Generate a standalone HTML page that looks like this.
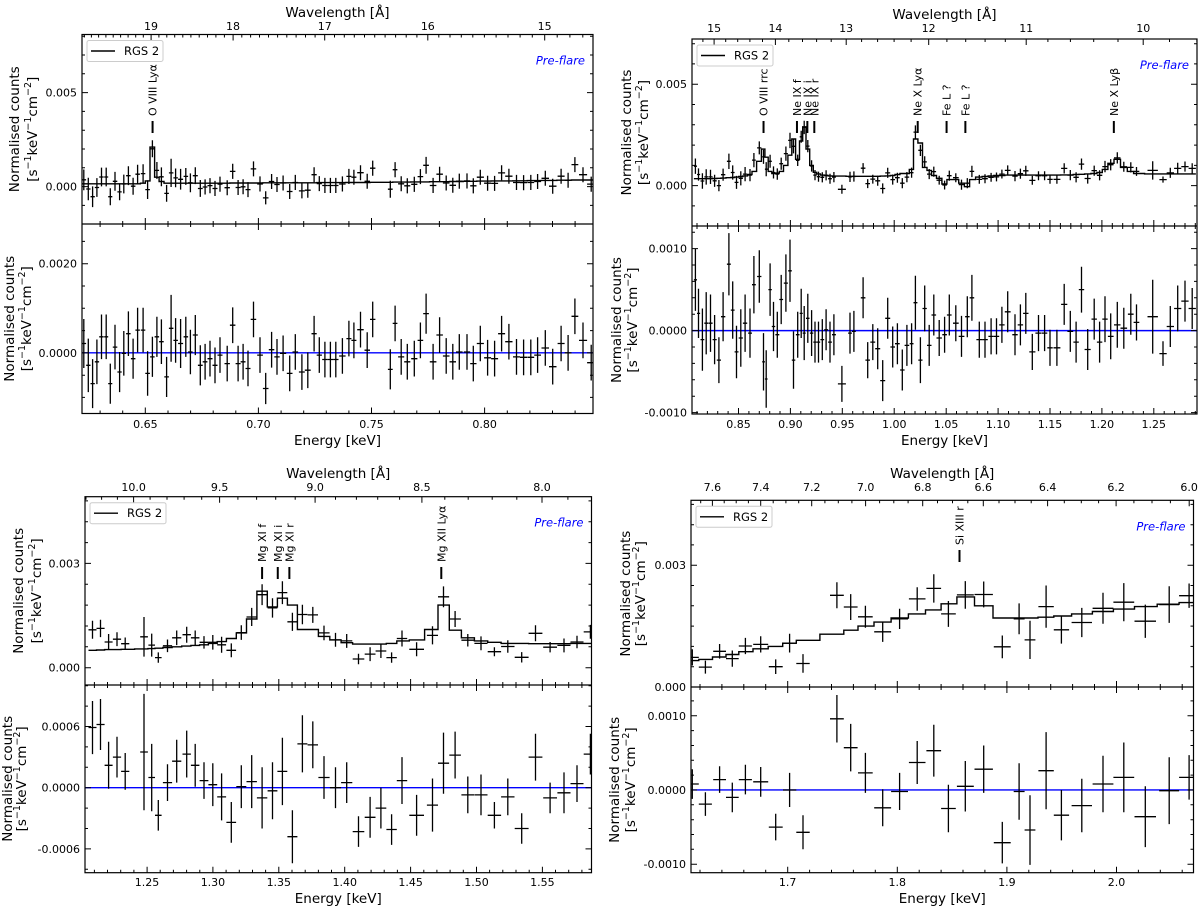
<!DOCTYPE html>
<html><head><meta charset="utf-8"><title>RGS 2 pre-flare spectra</title>
<style>
html,body{margin:0;padding:0;background:#fff;}
svg{display:block;font-family:"DejaVu Sans","Liberation Sans",sans-serif;}
</style></head>
<body>
<svg id="fig" xmlns="http://www.w3.org/2000/svg" width="1200" height="911" viewBox="0 0 1200 911"></svg>
<script>
// ---------- Panel 1 (O VIII region) ----------
const p1Energy=[0.6228,0.6248,0.6267,0.6286,0.6306,0.6327,0.6345,0.6366,0.6386,0.6405,0.6425,0.6446,0.6466,0.6490,0.6510,0.6531,0.6551,0.6571,0.6594,0.6614,0.6634,0.6656,0.6679,0.6699,0.6721,0.6743,0.6764,0.6786,0.6808,0.6830,0.6862,0.6886,0.6910,0.6932,0.6954,0.6978,0.7007,0.7032,0.7058,0.7082,0.7109,0.7138,0.7163,0.7192,0.7218,0.7246,0.7269,0.7294,0.7318,0.7342,0.7371,0.7400,0.7422,0.7451,0.7481,0.7505,0.7583,0.7604,0.7631,0.7658,0.7689,0.7716,0.7741,0.7772,0.7801,0.7830,0.7859,0.7888,0.7922,0.7950,0.7981,0.8013,0.8044,0.8075,0.8107,0.8141,0.8172,0.8204,0.8234,0.8268,0.8301,0.8338,0.8369,0.8399,0.8435,0.8471];
const p1Resid=[0.00021,-0.00028,-0.00069,-0.0002,0.00036,0.00036,-0.00069,0.00013,-0.00043,-0.00001,0.00043,-0.00013,0.00051,0.00051,-0.00046,-0.00009,0.00036,0.00025,-0.00054,0.00055,0.00028,0.00021,0.00036,0.00002,0.0004,-0.00028,-0.0002,-0.00013,-0.00028,-0.00005,-0.00024,0.00062,-0.00024,-0.0002,-0.00035,0.00075,-0.00005,-0.0008,0.00007,-0.00009,-0.00001,-0.00046,0.00002,-0.00043,-0.00039,0.00043,-0.00005,-0.00015,-0.00015,-0.00015,-0.00007,0.00032,0.00028,0.00052,0.00006,0.00075,-0.00037,0.00066,-0.00009,-0.0002,-0.00013,0.00028,0.00088,-0.0002,0.0004,-0.00007,-0.0002,0.00002,0.00002,-0.00024,0.00021,-0.00011,-0.00013,0.00043,0.00025,-0.00009,-0.0001,-0.0001,-0.00005,0.00011,-0.00031,0.00021,0,0.00082,0.00028,-0.00022];
const p1Err=[0.00055,0.0006,0.00055,0.0005,0.0005,0.0005,0.00045,0.0005,0.00045,0.0005,0.0005,0.00045,0.0005,0.0005,0.0005,0.00045,0.00045,0.0005,0.00045,0.00075,0.0005,0.00055,0.00045,0.0005,0.00045,0.00045,0.0004,0.0004,0.0004,0.0004,0.0004,0.0004,0.0004,0.0004,0.0004,0.0004,0.0004,0.00035,0.0004,0.0004,0.0004,0.0004,0.0004,0.0004,0.0004,0.0004,0.0004,0.0004,0.0004,0.0004,0.0004,0.0004,0.0004,0.0004,0.0004,0.0004,0.00045,0.0004,0.0004,0.0004,0.0004,0.0004,0.00045,0.0004,0.0004,0.0004,0.0004,0.0004,0.0004,0.0004,0.0004,0.0004,0.0004,0.0004,0.0004,0.0004,0.0004,0.0004,0.0004,0.0004,0.0004,0.0004,0.0004,0.0004,0.0004,0.0004];
const p1Model=[0.00015,0.00015,0.00015,0.00015,0.00015,0.00015,0.00015,0.00015,0.00015,0.00015,0.00015,0.00015,0.00015,0.00018,0.0003,0.0021,0.0005,0.00027,0.00018,0.00018,0.00018,0.00018,0.00018,0.00018,0.00018,0.00018,0.00018,0.00018,0.00018,0.00018,0.00018,0.00019,0.00019,0.00019,0.00019,0.00019,0.00019,0.0002,0.0002,0.0002,0.0002,0.0002,0.0002,0.0002,0.0002,0.0002,0.00021,0.00021,0.00021,0.00021,0.00021,0.00022,0.00022,0.00022,0.00022,0.00023,0.00023,0.00024,0.00024,0.00024,0.00025,0.00025,0.00025,0.00026,0.00026,0.00026,0.00027,0.00027,0.00028,0.00028,0.00029,0.00029,0.0003,0.0003,0.0003,0.00031,0.00031,0.00032,0.00032,0.00033,0.00033,0.00034,0.00034,0.00035,0.00035,0.00035];
const p1TopTicks=[0.000,0.005], p1TopTickLabels=["0.000","0.005"];
const p1BotTicks=[0.0000,0.0020], p1BotTickLabels=["0.0000","0.0020"];
const p1ETicks=[0.65,0.70,0.75,0.80], p1ETickLabels=["0.65","0.70","0.75","0.80"];
const p1WTicks=[19,18,17,16,15], p1WTickLabels=["19","18","17","16","15"];
const p1Lines=["O VIII Lyα"], p1LineE=[0.6532];

// ---------- Panel 2 (Ne region) ----------
const p2Energy=[0.8085,0.8115,0.8152,0.8189,0.8230,0.8270,0.8311,0.8352,0.8407,0.8444,0.8481,0.8522,0.8563,0.8611,0.8648,0.8700,0.8741,0.8767,0.8804,0.8837,0.8874,0.8911,0.8956,0.8996,0.9030,0.9070,0.9104,0.9133,0.9167,0.9204,0.9237,0.9270,0.9307,0.9344,0.9381,0.9419,0.9496,0.9574,0.9611,0.9700,0.9744,0.9793,0.9841,0.9889,0.9937,0.9985,1.0030,1.0078,1.0122,1.0167,1.0204,1.0252,1.0293,1.0337,1.0381,1.0433,1.0485,1.0530,1.0593,1.0648,1.0704,1.0748,1.0819,1.0874,1.0933,1.0985,1.1037,1.1093,1.1163,1.1215,1.1267,1.1330,1.1389,1.1448,1.1500,1.1567,1.1637,1.1696,1.1752,1.1804,1.1863,1.1926,1.1978,1.2030,1.2085,1.2148,1.2211,1.2278,1.2333,1.2489,1.2589,1.2659,1.2730,1.2800,1.2870];
const p2Resid=[0.00062,0.00021,-0.00011,0.00009,0.00009,-0.00011,-0.00036,0.00017,0.00081,0.00025,-0.00026,-0.00009,0.00009,-0.00003,0.00056,0.00066,-0.00038,-0.00059,0.0005,0.00005,-0.00005,0.00038,0.00058,0.00073,-0.00036,-0.00005,0.00021,-0.00003,0.00015,-0.00003,-0.00014,-0.00014,-0.00011,0.00001,-0.00014,-0.00005,-0.00065,-0.00003,-0.00001,0.0004,-0.00036,-0.00014,-0.00022,-0.00061,0.00015,-0.0002,-0.00016,-0.00048,-0.00018,-0.00016,0.00034,-0.00036,0.00027,-0.00018,0.00019,-0.00009,-0.00005,0.00019,0.00009,-0.00007,0.00017,0.0004,-0.00011,-0.00011,-0.00007,-0.00007,0.00007,0.00023,-0.00005,0.00007,0.00021,-0.00026,-0.00003,-0.00003,-0.00021,-0.00021,0.00032,-0.00001,-0.00014,0.0005,-0.00023,0.00014,-0.00014,0.00014,-0.00007,0.00007,0.00003,0.0002,0.0001,0.00017,-0.00028,0.00005,0.00027,0.00036,0.00027];
const p2Err=[0.00038,0.0003,0.00038,0.00038,0.00035,0.0003,0.00028,0.0003,0.00038,0.00035,0.00032,0.00035,0.00035,0.0003,0.00035,0.00032,0.00035,0.00035,0.00032,0.0003,0.00028,0.0003,0.00035,0.00038,0.00035,0.00028,0.0003,0.00033,0.0003,0.00028,0.00025,0.00025,0.00025,0.00025,0.00025,0.00025,0.00022,0.00025,0.00025,0.00025,0.00022,0.00022,0.00025,0.00025,0.00025,0.00025,0.00025,0.00025,0.00025,0.00025,0.00033,0.00028,0.00028,0.00025,0.00025,0.00022,0.00022,0.00025,0.00022,0.00025,0.00025,0.00028,0.00022,0.00022,0.00022,0.00022,0.00022,0.00025,0.00025,0.00025,0.00025,0.00022,0.00022,0.00022,0.00022,0.00022,0.00025,0.00025,0.00025,0.00028,0.00025,0.00025,0.00025,0.00028,0.00028,0.00028,0.00025,0.00025,0.00022,0.00045,0.00015,0.00025,0.00028,0.00025,0.00025];
const p2Model=[0.00034,0.00034,0.00034,0.00034,0.00034,0.00035,0.00036,0.00037,0.00039,0.0004,0.00042,0.00045,0.00048,0.00055,0.0007,0.0012,0.0018,0.0014,0.0007,0.0006,0.00062,0.0007,0.001,0.0015,0.0023,0.0013,0.0022,0.0029,0.0018,0.001,0.00066,0.00058,0.00052,0.0005,0.00048,0.00047,0.00047,0.00046,0.00046,0.00046,0.00046,0.00046,0.00046,0.00047,0.00048,0.0005,0.00055,0.0006,0.0006,0.0008,0.0023,0.0021,0.0009,0.00075,0.0005,0.00036,0.00008,0.0003,0.0003,0.00012,-0.00005,0.0003,0.00042,0.00045,0.00048,0.0005,0.0005,0.00052,0.00052,0.00052,0.00052,0.00052,0.00052,0.00052,0.00052,0.00052,0.00053,0.00053,0.00055,0.00056,0.00058,0.0006,0.00065,0.0008,0.0011,0.0013,0.0009,0.0007,0.0006,0.00058,0.00058,0.00058,0.00058,0.00058,0.00058];
const p2TopTicks=[0.000,0.005], p2TopTickLabels=["0.000","0.005"];
const p2BotTicks=[-0.0010,0.0000,0.0010], p2BotTickLabels=["-0.0010","0.0000","0.0010"];
const p2ETicks=[0.85,0.90,0.95,1.00,1.05,1.10,1.15,1.20,1.25], p2ETickLabels=["0.85","0.90","0.95","1.00","1.05","1.10","1.15","1.20","1.25"];
const p2WTicks=[15,14,13,12,11,10], p2WTickLabels=["15","14","13","12","11","10"];
const p2Lines=["O VIII rrc","Ne IX f","Ne IX i","Ne IX r","Ne X Lyα","Fe L ?","Fe L ?","Ne X Lyβ"], p2LineE=[0.8741,0.9063,0.9163,0.9230,1.0226,1.0504,1.0685,1.2115];

// ---------- Panel 3 (Mg region) ----------
const p3Energy=[1.2086,1.2147,1.2208,1.2272,1.2334,1.2477,1.2535,1.2585,1.2655,1.2725,1.2801,1.2865,1.2932,1.2999,1.3066,1.3139,1.3215,1.3294,1.3373,1.3452,1.3527,1.3603,1.3679,1.3758,1.3843,1.3930,1.4015,1.4105,1.4193,1.4275,1.4356,1.4435,1.4546,1.4666,1.4750,1.4838,1.4934,1.5034,1.5136,1.5238,1.5343,1.5448,1.5559,1.5664,1.5763,1.5865];
const p3Resid=[0.00059,0.00062,0.00022,0.0003,0.00016,0.00035,0.0001,-0.00027,0.00005,0.00026,0.00033,0.00022,0.00007,0.00003,-0.00009,-0.00034,0.00001,0.00006,-0.0001,-0.00003,0.00016,-0.00048,0.00043,0.00042,0.0001,0,0.00005,-0.00043,-0.00029,-0.0002,-0.00041,0.00007,-0.00027,-0.00017,0.00024,0.00032,-0.00007,-0.00007,-0.00027,-0.00009,-0.0004,0.0003,-0.0001,-0.00005,0.00004,0.00033];
const p3Err=[0.00026,0.00025,0.00023,0.0002,0.00018,0.00057,0.00033,0.00015,0.00018,0.00021,0.00023,0.00021,0.00018,0.00021,0.00023,0.0002,0.00021,0.00026,0.0003,0.00028,0.00033,0.00026,0.00028,0.00023,0.00021,0.0002,0.0002,0.00015,0.0002,0.0002,0.00015,0.00023,0.0002,0.00026,0.0003,0.00023,0.00018,0.0002,0.00013,0.00018,0.00015,0.00023,0.00015,0.0002,0.00018,0.0002];
const p3Model=[0.0005,0.00051,0.00052,0.00052,0.00053,0.00054,0.00055,0.00056,0.00058,0.0006,0.00062,0.00064,0.00066,0.0007,0.00075,0.00084,0.001,0.0014,0.0022,0.00175,0.002,0.0018,0.0011,0.0011,0.0009,0.0008,0.00072,0.00068,0.00068,0.00068,0.0007,0.00077,0.0008,0.0011,0.0018,0.00108,0.00086,0.00077,0.00073,0.0007,0.0007,0.00069,0.00069,0.00069,0.0007,0.0007];
const p3TopTicks=[0.000,0.003], p3TopTickLabels=["0.000","0.003"];
const p3BotTicks=[-0.0006,0.0000,0.0006], p3BotTickLabels=["-0.0006","0.0000","0.0006"];
const p3ETicks=[1.25,1.30,1.35,1.40,1.45,1.50,1.55], p3ETickLabels=["1.25","1.30","1.35","1.40","1.45","1.50","1.55"];
const p3WTicks=[10.0,9.5,9.0,8.5,8.0], p3WTickLabels=["10.0","9.5","9.0","8.5","8.0"];
const p3Lines=["Mg XI f","Mg XI i","Mg XI r","Mg XII Lyα"], p3LineE=[1.3373,1.3492,1.3580,1.4733];

// ---------- Panel 4 (Si region) ----------
const p4Energy=[1.6130,1.6249,1.6379,1.6495,1.6614,1.6754,1.6891,1.7018,1.7140,1.7449,1.7575,1.7709,1.7867,1.8021,1.8182,1.8333,1.8467,1.8621,1.8789,1.8958,1.9112,1.9211,1.9358,1.9498,1.9684,1.9877,2.0067,2.0263,2.0481,2.0663];
const p4Resid=[0.00008,-0.00019,0.00014,-0.0001,0.00014,0.00011,-0.0005,0,-0.00057,0.00096,0.00057,0.00023,-0.00024,-0.00002,0.00037,0.00053,-0.00025,0.00005,0.00028,-0.00071,-0.00002,-0.00054,0.00026,-0.00034,-0.00021,0.00008,0.00017,-0.00036,-0.00001,0.00017];
const p4Err=[0.0002,0.00016,0.00018,0.0002,0.0002,0.0002,0.00018,0.00023,0.00023,0.00032,0.00032,0.00027,0.00025,0.00025,0.00029,0.00035,0.00032,0.00034,0.00032,0.00028,0.00038,0.00047,0.00052,0.00034,0.00036,0.00038,0.00047,0.00041,0.00045,0.0003];
const p4Model=[0.00065,0.00068,0.00074,0.0008,0.00087,0.00094,0.001,0.00108,0.00115,0.0013,0.0014,0.0015,0.0016,0.0017,0.0018,0.0019,0.00205,0.00222,0.002,0.0017,0.0017,0.0017,0.00172,0.00175,0.0018,0.00186,0.00192,0.00198,0.00204,0.00208];
const p4TopTicks=[0.000,0.003], p4TopTickLabels=["0.000","0.003"];
const p4BotTicks=[-0.0010,0.0000,0.0010], p4BotTickLabels=["-0.0010","0.0000","0.0010"];
const p4ETicks=[1.7,1.8,1.9,2.0], p4ETickLabels=["1.7","1.8","1.9","2.0"];
const p4WTicks=[7.6,7.4,7.2,7.0,6.8,6.6,6.4,6.2,6.0], p4WTickLabels=["7.6","7.4","7.2","7.0","6.8","6.6","6.4","6.2","6.0"];
const p4Lines=["Si XIII r"], p4LineE=[1.8568];

const HC=12.398;
const NS="http://www.w3.org/2000/svg";
const svg=document.getElementById('fig');
function mk(tag,a,parent){const e=document.createElementNS(NS,tag);for(const k in a)e.setAttribute(k,a[k]);parent.appendChild(e);return e;}

function drawPanel(id,cfg,E,R,ER,M,topT,topL,botT,botL,eT,eL,wT,wL,lines,lineE){
  const g=mk('g',{},svg);
  
  
  const X=e=>cfg.x0+(e-cfg.e0)/(cfg.e1-cfg.e0)*(cfg.x1-cfg.x0);
  const YT=v=>cfg.ty0+(cfg.tv0-v)/(cfg.tv0-cfg.tv1)*(cfg.ty1-cfg.ty0);
  const YB=v=>cfg.ty1+(cfg.bv0-v)/(cfg.bv0-cfg.bv1)*(cfg.by1-cfg.ty1);
  const W=cfg.x1-cfg.x0;
  const cp=mk('clipPath',{id:id+'-ct'},g);
  mk('rect',{x:cfg.x0,y:cfg.ty0,width:W,height:cfg.ty1-cfg.ty0},cp);
  const cb=mk('clipPath',{id:id+'-cb'},g);
  mk('rect',{x:cfg.x0,y:cfg.ty1,width:W,height:cfg.by1-cfg.ty1},cb);
  const n=E.length;
  const hw=[];const lo=[],hi=[];
  for(let i=0;i<n;i++){
    const dp=i>0?E[i]-E[i-1]:Infinity, dn=i<n-1?E[i+1]-E[i]:Infinity;
    hw.push(Math.min(dp,dn)/2);
    lo.push(i>0?(E[i]+E[i-1])/2:E[i]-Math.min(dp,dn)/2);
    hi.push(i<n-1?(E[i]+E[i+1])/2:E[i]+Math.min(dp,dn)/2);
  }
  const gt=mk('g',{'clip-path':'url(#'+id+'-ct)'},g);
  
  
  let d='';
  for(let i=0;i<n;i++){d+=(i?'L':'M')+X(lo[i]).toFixed(1)+','+YT(M[i]).toFixed(1)+'L'+X(hi[i]).toFixed(1)+','+YT(M[i]).toFixed(1);}
  const mp=mk('path',{d:d,fill:'none',stroke:'#000','stroke-width':1.4},gt);
  
  
  for(let i=0;i<n;i++){
    const v=M[i]+R[i];
    const p=mk('path',{d:'M'+X(E[i]-hw[i]).toFixed(1)+','+YT(v).toFixed(1)+'H'+X(E[i]+hw[i]).toFixed(1)+'M'+X(E[i]).toFixed(1)+','+YT(v-ER[i]).toFixed(1)+'V'+YT(v+ER[i]).toFixed(1),stroke:'#000','stroke-width':1.3,fill:'none'},gt);
    
    
  }
  const gb=mk('g',{'clip-path':'url(#'+id+'-cb)'},g);
  
  
  const zl=mk('line',{x1:cfg.x0,x2:cfg.x1,y1:YB(0),y2:YB(0),stroke:'#0000ff','stroke-width':1.4},gb);
  
  
  for(let i=0;i<n;i++){
    const v=R[i];
    const p=mk('path',{d:'M'+X(E[i]-hw[i]).toFixed(1)+','+YB(v).toFixed(1)+'H'+X(E[i]+hw[i]).toFixed(1)+'M'+X(E[i]).toFixed(1)+','+YB(v-ER[i]).toFixed(1)+'V'+YB(v+ER[i]).toFixed(1),stroke:'#000','stroke-width':1.3,fill:'none'},gb);
    
    
  }
  const fr=mk('rect',{x:cfg.x0,y:cfg.ty0,width:W,height:cfg.by1-cfg.ty0,fill:'none',stroke:'#000','stroke-width':1.2},g);
  
  
  const dv=mk('line',{x1:cfg.x0,x2:cfg.x1,y1:cfg.ty1,y2:cfg.ty1,stroke:'#000','stroke-width':1.2},g);
  
  
  let td='';
  const tick=(x,y,dx,dy)=>{td+='M'+x.toFixed(1)+','+y.toFixed(1)+'l'+dx+','+dy;};
  const e0=Math.ceil(cfg.e0/cfg.eMin-1e-6)*cfg.eMin;
  for(let e=e0;e<=cfg.e1+1e-9;e+=cfg.eMin){
    const major=eT.some(t=>Math.abs(t-e)<cfg.eMin/4);
    const L=major?6:3,x=X(e);
    tick(x,cfg.by1,0,-L);tick(x,cfg.ty1,0,L);tick(x,cfg.ty1,0,-L);
  }
  const w1=HC/cfg.e0,w2=HC/cfg.e1;
  for(let w=Math.ceil(w2/cfg.wMin-1e-6)*cfg.wMin;w<=w1+1e-9;w+=cfg.wMin){
    const major=wT.some(t=>Math.abs(t-w)<cfg.wMin/4);
    tick(X(HC/w),cfg.ty0,0,major?6:3);
  }
  const yt=(Y,v0,v1,step,majors,ya,yb)=>{
    const lo=Math.min(v0,v1),hi=Math.max(v0,v1);
    for(let v=Math.ceil(lo/step-1e-6)*step;v<=hi+1e-12;v+=step){
      const y=Y(v); if(y<ya-0.5||y>yb+0.5)continue;
      const major=majors.some(t=>Math.abs(t-v)<step/4);
      const L=major?6:3;
      tick(cfg.x0,y,L,0);tick(cfg.x1,y,-L,0);
    }
  };
  yt(YT,cfg.tv0,cfg.tv1,cfg.tMin,topT,cfg.ty0,cfg.ty1);
  yt(YB,cfg.bv0,cfg.bv1,cfg.bMin,botT,cfg.ty1,cfg.by1);
  const tp=mk('path',{d:td,stroke:'#000','stroke-width':1,fill:'none'},g);
  
  
  const txt=(x,y,s,attrs,name)=>{const t=mk('text',Object.assign({x:x,y:y,'font-size':11,fill:'#000'},attrs),g);t.textContent=s;return t;};
  for(let i=0;i<eT.length;i++) txt(X(eT[i]),cfg.eLabY,eL[i],{'text-anchor':'middle'},'x-tick-label');
  for(let i=0;i<wT.length;i++) txt(X(HC/wT[i]),cfg.wLabY,wL[i],{'text-anchor':'middle'},'top-tick-label');
  for(let i=0;i<topT.length;i++) txt(cfg.x0-5,YT(topT[i])+4,topL[i],{'text-anchor':'end'},'y-tick-label');
  for(let i=0;i<botT.length;i++) txt(cfg.x0-5,YB(botT[i])+4,botL[i],{'text-anchor':'end'},'residual-y-tick-label');
  const cx=(cfg.x0+cfg.x1)/2;
  txt(cx,cfg.eLabY+17,'Energy [keV]',{'text-anchor':'middle','font-size':13.5},'x-axis-title');
  txt(cx,cfg.wLabY-13,'Wavelength [Å]',{'text-anchor':'middle','font-size':13.5},'top-axis-title');
  const ylab=(xa,xb,yc,name)=>{
    txt(xa,yc,'Normalised counts',{'text-anchor':'middle','font-size':13.5,'dominant-baseline':'central',transform:'rotate(-90 '+xa+' '+yc+')'},name);
    const t=txt(xb,yc,'',{'text-anchor':'middle','font-size':13.5,'dominant-baseline':'central',transform:'rotate(-90 '+xb+' '+yc+')'},name+'-units');
    t.innerHTML='[s<tspan dy="-5" font-size="9.5">−1</tspan><tspan dy="5">keV</tspan><tspan dy="-5" font-size="9.5">−1</tspan><tspan dy="5">cm</tspan><tspan dy="-5" font-size="9.5">−2</tspan><tspan dy="5">]</tspan>';
  };
  ylab(cfg.yl1,cfg.yl2,(cfg.ty0+cfg.ty1)/2,'y-axis-title');
  ylab(cfg.rl1,cfg.rl2,(cfg.ty1+cfg.by1)/2,'residual-y-axis-title');
  const lg=mk('g',{},g);
  
  
  mk('rect',{x:cfg.x0+5,y:cfg.ty0+6,width:76,height:21,rx:2,fill:'#fff',stroke:'#ccc','stroke-width':1},lg);
  mk('line',{x1:cfg.x0+9,x2:cfg.x0+33,y1:cfg.ty0+16.5,y2:cfg.ty0+16.5,stroke:'#000','stroke-width':1.4},lg);
  const lt=mk('text',{x:cfg.x0+42,y:cfg.ty0+20.5,'font-size':11.5},lg);lt.textContent='RGS 2';
  
  
  txt(cfg.x1-8,cfg.ty0+30,'Pre-flare',{'text-anchor':'end',fill:'#0000ff','font-style':'italic','font-size':11.5},'period-label');
  for(let i=0;i<lines.length;i++){
    const x=X(lineE[i]);
    const m=mk('line',{x1:x,x2:x,y1:cfg.mkY,y2:cfg.mkY+12,stroke:'#000','stroke-width':2},g);
    
    
    const ty=cfg.mkY-5;
    txt(x+4,ty,lines[i],{'font-size':11,transform:'rotate(-90 '+(x+4)+' '+ty+')'},'line-label');
  }
}

drawPanel('panel-oviii',{x0:82,x1:593,e0:0.6220,e1:0.8479,ty0:34.5,ty1:224,tv0:0.00809,tv1:-0.00199,by1:413.5,bv0:0.00289,bv1:-0.00136,eMin:0.01,wMin:0.1,tMin:0.001,bMin:0.0005,eLabY:428,wLabY:30,yl1:15,yl2:33,rl1:10,rl2:27,mkY:121},
  p1Energy,p1Resid,p1Err,p1Model,p1TopTicks,p1TopTickLabels,p1BotTicks,p1BotTickLabels,p1ETicks,p1ETickLabels,p1WTicks,p1WTickLabels,p1Lines,p1LineE);
drawPanel('panel-ne',{x0:692,x1:1197,e0:0.8052,e1:1.2916,ty0:39,ty1:226,tv0:0.00723,tv1:-0.00199,by1:414,bv0:0.001276,bv1:-0.001017,eMin:0.01,wMin:0.2,tMin:0.001,bMin:0.0002,eLabY:428,wLabY:32,yl1:627,yl2:644,rl1:617,rl2:633,mkY:121},
  p2Energy,p2Resid,p2Err,p2Model,p2TopTicks,p2TopTickLabels,p2BotTicks,p2BotTickLabels,p2ETicks,p2ETickLabels,p2WTicks,p2WTickLabels,p2Lines,p2LineE);
drawPanel('panel-mg',{x0:85,x1:591.5,e0:1.2029,e1:1.5873,ty0:496.7,ty1:685,tv0:0.00492,tv1:-0.000498,by1:872.7,bv0:0.001007,bv1:-0.000833,eMin:0.01,wMin:0.1,tMin:0.0006,bMin:0.0002,eLabY:886,wLabY:491,yl1:19,yl2:37,rl1:8,rl2:22,mkY:567},
  p3Energy,p3Resid,p3Err,p3Model,p3TopTicks,p3TopTickLabels,p3BotTicks,p3BotTickLabels,p3ETicks,p3ETickLabels,p3WTicks,p3WTickLabels,p3Lines,p3LineE);
drawPanel('panel-si',{x0:691,x1:1193.5,e0:1.6118,e1:2.0703,ty0:500.3,ty1:687,tv0:0.0046,tv1:0,by1:872.7,bv0:0.001388,bv1:-0.001115,eMin:0.02,wMin:0.05,tMin:0.0005,bMin:0.0002,eLabY:886,wLabY:491,yl1:626,yl2:641,rl1:615,rl2:631,mkY:550},
  p4Energy,p4Resid,p4Err,p4Model,p4TopTicks,p4TopTickLabels,p4BotTicks,p4BotTickLabels,p4ETicks,p4ETickLabels,p4WTicks,p4WTickLabels,p4Lines,p4LineE);
</script>
</body></html>
